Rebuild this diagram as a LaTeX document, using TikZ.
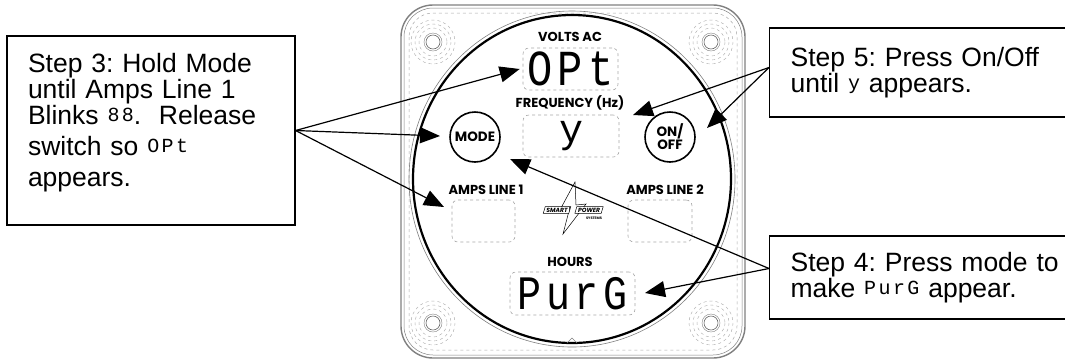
\documentclass[tikz,border=0pt]{standalone}
\usepackage{graphicx}
\usepackage{fontspec}
\setmainfont{Liberation Sans}
\newfontfamily\panelfont{Poppins}
\newfontfamily\segfont{Liberation Mono}[LetterSpace=12]
\usetikzlibrary{arrows.meta,positioning}
\frenchspacing

\newcommand{\callfont}{\fontsize{26.5}{26}\selectfont}
\newcommand{\seg}[1]{\raisebox{3pt}{\segfont\fontsize{20}{20}\selectfont #1}}
\newcommand{\lcdtext}[2]{\scalebox{1}[1.2]{\segfont\fontsize{#1}{#1}\selectfont #2}}

\tikzset{
  callout/.style={draw, line width=1.2pt, align=left, font=\callfont, inner xsep=21pt, inner ysep=0pt},
  pointer/.style={-{Triangle[length=20pt,width=16pt]}, line width=1.2pt},
  lcd/.style={draw=gray!70, dashed, rounded corners=6pt, line width=0.6pt, inner sep=0pt},
  lbl/.style={font=\panelfont\bfseries\fontsize{13}{13}\selectfont, inner sep=0pt},
  knob/.style={draw, circle, line width=1.6pt, minimum size=50pt, inner sep=0pt, font=\panelfont\bfseries\fontsize{13.5}{13}\selectfont, align=center}
}

\begin{document}
\begin{tikzpicture}[x=1pt, y=-1pt]
    \useasboundingbox (0,0) rectangle (1065,360);

    % Gehaeuse
    \draw[gray, line width=1.4pt, rounded corners=32pt] (401,5) rectangle (745,358);
    \draw[gray, line width=0.5pt, rounded corners=29pt] (404,8) rectangle (742,355);
    \draw[gray!70, dashed, line width=0.5pt, rounded corners=24pt] (409,13) rectangle (737,350);

    % Schrauben
    \foreach \sx/\sy in {433/42, 711/42, 433/323, 711/323} {
        \draw[gray!80!black, line width=0.6pt] (\sx,\sy) circle[radius=7];
        \draw[gray, line width=0.4pt] (\sx,\sy) circle[radius=9];
        \draw[gray!70, dashed, line width=0.4pt] (\sx,\sy) circle[radius=14];
        \draw[gray!70, dashed, line width=0.4pt] (\sx,\sy) circle[radius=18];
        \draw[gray!70, dashed, line width=0.4pt] (\sx,\sy) circle[radius=22];
    }

    % Frontplatte
    \draw[gray, line width=0.6pt] (572,179) ellipse[x radius=163, y radius=168];
    \draw[line width=2.2pt] (572,179) ellipse[x radius=159, y radius=164];
    \draw[gray, line width=0.5pt] (567,343) -- (572,338) -- (577,343);

    % Anzeigen
    \node[lbl] (voltslbl) at (570,37) {VOLTS AC};
    \node[lcd, minimum width=95pt, minimum height=42pt] (voltsbox) at (570.5,69) {\lcdtext{42}{OPt}};
    \node[lbl] (freqlbl) at (570,103) {FREQUENCY (Hz)};
    \node[lcd, minimum width=96pt, minimum height=42pt] (freqbox) at (571,136) {\segfont\fontsize{40}{40}\selectfont y};
    \node[lbl] (amps1lbl) at (486,190) {AMPS LINE 1};
    \node[lcd, minimum width=63pt, minimum height=42pt] (amps1box) at (483.5,221) {};
    \node[lbl] (amps2lbl) at (665,190) {AMPS LINE 2};
    \node[lcd, minimum width=64pt, minimum height=42pt] (amps2box) at (660,221) {};
    \node[lbl] (hourslbl) at (570,262) {HOURS};
    \node[lcd, minimum width=125pt, minimum height=43pt] (hoursbox) at (572.5,293.5) {\lcdtext{40}{PurG}};

    % Tasten
    \node[knob] (mode) at (475,137) {MODE};
    \node[knob] (onoff) at (670,137) {ON/\\OFF};

    % Logo
    \draw[line width=0.5pt] (575,182) -- (561,208) -- (570,207) -- (563,234) -- (586,204) -- (576,205) -- cycle;
    \node[font=\panelfont\bfseries\itshape\fontsize{6}{6}\selectfont, inner sep=1pt, fill=white] (smart) at (557,210) {SMART};
    \node[font=\panelfont\bfseries\itshape\fontsize{6}{6}\selectfont, inner sep=1pt, fill=white] (power) at (589,210) {POWER};
    \draw[line width=0.5pt] ([xshift=-2pt]smart.south west) -- (smart.south east) -- ([xshift=2pt]smart.north east) -- (smart.north west) -- cycle;
    \draw[line width=0.5pt] ([xshift=-2pt]power.south west) -- (power.south east) -- ([xshift=2pt]power.north east) -- (power.north west) -- cycle;
    \node[font=\panelfont\bfseries\fontsize{3.5}{4}\selectfont, inner sep=0pt] (systems) at (594,218) {SYSTEMS};

    % Hinweise
    \node[callout, minimum width=288pt, minimum height=189pt, text width=246pt] (step3) at (151,130.5)
        {Step 3: Hold Mode\\until Amps Line 1\\Blinks \seg{88}.\ \ Release\\[5pt]switch so \seg{OPt}\\[5pt]appears.\rule[-22pt]{0pt}{22pt}};
    \node[callout, anchor=west, minimum width=320pt, minimum height=89pt, text width=278pt] (step5) at (769,72.5)
        {Step 5: Press On/Off\\until \seg{y} appears.};
    \node[callout, anchor=west, minimum width=320pt, minimum height=83pt, text width=278pt] (step4) at (769,277.5)
        {Step 4: Press mode to\\make \seg{PurG} appear.};

    % Pfeile
    \coordinate (modetip) at (440,136);
    \coordinate (amps1tip) at (444,207);
    \coordinate (freqtip) at (633,115);
    \coordinate (onofftip) at (707,128);
    \coordinate (modetipb) at (510,159);
    \coordinate (hourstip) at (645,293);
    \draw[pointer] (step3.east) -- ([xshift=-3pt]voltsbox.west);
    \draw[pointer] (step3.east) -- (modetip);
    \draw[pointer] (step3.east) -- (amps1tip);
    \draw[pointer] ([yshift=5pt]step5.west) -- (freqtip);
    \draw[pointer] ([yshift=5pt]step5.west) -- (onofftip);
    \draw[pointer] ([yshift=9pt]step4.west) -- (modetipb);
    \draw[pointer] ([yshift=9pt]step4.west) -- (hourstip);
\end{tikzpicture}
\end{document}
